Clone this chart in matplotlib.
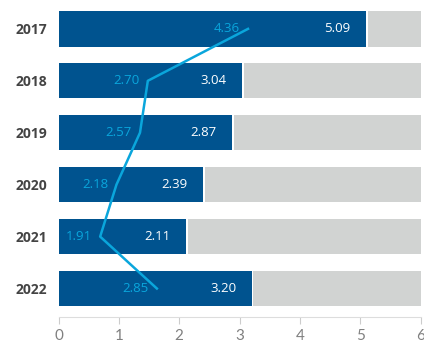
import matplotlib.pyplot as plt

# data
years = ['2017', '2018', '2019', '2020', '2021', '2022']
bar_values = [5.09, 3.04, 2.87, 2.39, 2.11, 3.20]
line_values = [4.36, 2.70, 2.57, 2.18, 1.91, 2.85]
axis_max = 6
line_offset = 1.22  # line is drawn on a shifted twin scale

dark_blue = '#00538f'
light_blue = '#0aa6dc'
grey_bg = '#d1d3d2'

fig = plt.figure(figsize=(4.24, 3.45), dpi=100)
ax = fig.add_axes([0.138, 0.080, 0.854, 0.92])

pos = list(range(len(years)))

# grey remainder bars, then the blue value bars
ax.barh(pos, [axis_max - v - 0.03 for v in bar_values], left=[v + 0.03 for v in bar_values],
        height=0.68, color=grey_bg)
ax.barh(pos, bar_values, height=0.68, color=dark_blue)

for p, v in zip(pos, bar_values):
    ax.annotate(f'{v:.2f}', (v, p), xytext=(-11, 0), textcoords='offset points',
                ha='right', va='center', color='white', fontsize=9.5, family='Open Sans')

ax.set_xlim(0, axis_max)
ax.set_ylim(len(years) - 0.444, -0.556)
ax.set_yticks(pos)
ax.set_yticklabels(years, fontsize=10, fontweight='bold', color='#444444', family='Open Sans')
ax.tick_params(axis='y', length=0, pad=8)
ax.set_xticks(range(axis_max + 1))
ax.tick_params(axis='x', length=5, color='#cccccc', labelcolor='#808080', labelsize=11, pad=3)
for lbl in ax.get_xticklabels():
    lbl.set_family('Lato')

for side in ['top', 'right', 'left']:
    ax.spines[side].set_visible(False)
ax.spines['bottom'].set_color('#dddddd')

# line on a shifted twin x scale
ax2 = ax.twiny()
ax2.set_xlim(line_offset, axis_max + line_offset)
ax2.set_ylim(ax.get_ylim())
ax2.plot(line_values, pos, color=light_blue, linewidth=1.8)
for p, v in zip(pos, line_values):
    ax2.annotate(f'{v:.2f}', (v, p), xytext=(-6, 0), textcoords='offset points',
                 ha='right', va='center', color=light_blue, fontsize=9.5, family='Open Sans')
ax2.axis('off')

fig.savefig('out.png', dpi=100)
